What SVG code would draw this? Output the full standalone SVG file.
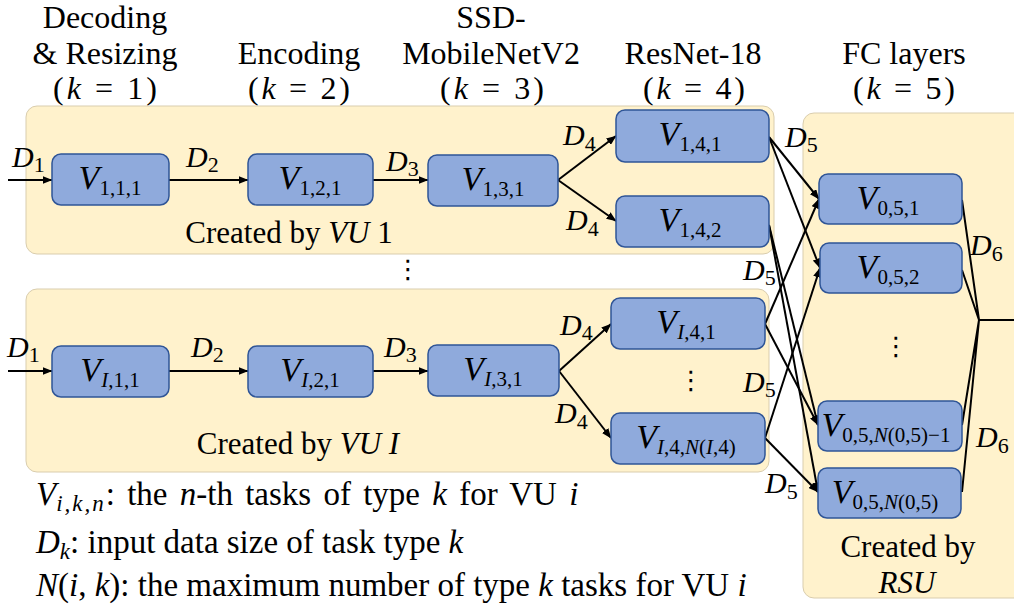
<svg xmlns="http://www.w3.org/2000/svg" width="1014" height="613" viewBox="0 0 1014 613">
  <defs>
    <marker id="arrow" markerWidth="10" markerHeight="8" refX="9.5" refY="4" orient="auto" markerUnits="userSpaceOnUse">
      <path d="M0,0 L10,4 L0,8 z" fill="#000"/>
    </marker>
  </defs>
  <style>
    .cont { fill:#FFF2CC; stroke:#D9CDAE; stroke-width:1; }
    .node rect { fill:#8FAADC; stroke:#2F5597; stroke-width:1.5; }
    .t { font-family:"Liberation Serif","DejaVu Serif",serif; fill:#000; }
    .title { font-size:32px; text-anchor:middle; }
    .m { font-style:italic; }
    .lbl { font-size:34px; text-anchor:middle; }
    .sub { font-size:21px; }
    .lsub { font-size:23px; }
    .d { font-size:30px; }
    .dsub { font-size:22px; }
    .cap { font-size:31px; text-anchor:middle; }
    .leg { font-size:33px; }
    .dots { font-family:"DejaVu Sans",sans-serif; font-size:26px; text-anchor:middle; fill:#000; }
    .edge { stroke:#000; stroke-width:2; fill:none; marker-end:url(#arrow); }
    .line { stroke:#000; stroke-width:2; fill:none; }
  </style>

  <!-- column headings -->
  <g id="headings" class="t title">
    <text x="105" y="28">Decoding</text>
    <text x="105" y="64">&amp; Resizing</text>
    <text x="105" y="99" textLength="104">(<tspan class="m">k</tspan> = 1)</text>
    <text x="299" y="64">Encoding</text>
    <text x="299" y="99" textLength="102">(<tspan class="m">k</tspan> = 2)</text>
    <text x="491" y="28">SSD-</text>
    <text x="491" y="64">MobileNetV2</text>
    <text x="492" y="99" textLength="104">(<tspan class="m">k</tspan> = 3)</text>
    <text x="693" y="64">ResNet-18</text>
    <text x="694" y="99" textLength="102">(<tspan class="m">k</tspan> = 4)</text>
    <text x="904" y="64">FC layers</text>
    <text x="904" y="99" textLength="102">(<tspan class="m">k</tspan> = 5)</text>
  </g>

  <!-- task groups -->
  <g id="group-vu1">
    <rect class="cont" x="26" y="106" width="748" height="148" rx="11"/>
    <text class="t cap" x="289" y="243">Created by <tspan class="m">VU</tspan> 1</text>
  </g>
  <g id="group-vuI">
    <rect class="cont" x="26" y="289" width="743" height="183" rx="11"/>
    <text class="t cap" x="298" y="454">Created by <tspan class="m">VU I</tspan></text>
  </g>
  <g id="group-rsu">
    <rect class="cont" x="803" y="113" width="230" height="485" rx="11"/>
    <text class="t cap" x="908" y="557">Created by</text>
    <text class="t cap m" x="907" y="593">RSU</text>
  </g>

  <text class="dots" x="408" y="278">⋮</text>
  <text class="dots" x="691" y="389">⋮</text>
  <text class="dots" x="896" y="355">⋮</text>

  <!-- connectors -->
  <g id="connectors">
    <line class="edge" x1="8" y1="180" x2="52" y2="180"/>
    <line class="edge" x1="169" y1="180" x2="248" y2="180"/>
    <line class="edge" x1="373" y1="180" x2="428" y2="180"/>
    <line class="edge" x1="558" y1="180" x2="616" y2="136"/>
    <line class="edge" x1="558" y1="180" x2="616" y2="221"/>

    <line class="edge" x1="8" y1="371" x2="52" y2="371"/>
    <line class="edge" x1="169" y1="371" x2="248" y2="371"/>
    <line class="edge" x1="373" y1="371" x2="428" y2="371"/>
    <line class="edge" x1="559" y1="371" x2="611" y2="324"/>
    <line class="edge" x1="559" y1="371" x2="611" y2="438"/>

    <line class="edge" x1="769" y1="137" x2="819" y2="199"/>
    <line class="edge" x1="769" y1="137" x2="820" y2="268"/>
    <line class="edge" x1="769" y1="225" x2="818" y2="425"/>
    <line class="edge" x1="769" y1="225" x2="818" y2="492"/>
    <line class="edge" x1="765" y1="324" x2="819" y2="199"/>
    <line class="edge" x1="765" y1="324" x2="818" y2="425"/>
    <line class="edge" x1="765" y1="438" x2="820" y2="268"/>
    <line class="edge" x1="765" y1="438" x2="818" y2="492"/>

    <polyline class="line" points="962,200 979,320 962,270"/>
    <polyline class="line" points="962,425 979,320 962,492"/>
    <line class="line" x1="979" y1="320" x2="1014" y2="320"/>
  </g>

  <!-- data-size labels -->
  <g id="data-labels" class="t d">
    <text x="12" y="167"><tspan class="m">D</tspan><tspan class="dsub" dy="5">1</tspan></text>
    <text x="186" y="167"><tspan class="m">D</tspan><tspan class="dsub" dy="5">2</tspan></text>
    <text x="386" y="171"><tspan class="m">D</tspan><tspan class="dsub" dy="5">3</tspan></text>
    <text x="563" y="145"><tspan class="m">D</tspan><tspan class="dsub" dy="6">4</tspan></text>
    <text x="566" y="230"><tspan class="m">D</tspan><tspan class="dsub" dy="6">4</tspan></text>
    <text x="785" y="147"><tspan class="m">D</tspan><tspan class="dsub" dy="5">5</tspan></text>
    <text x="743" y="280"><tspan class="m">D</tspan><tspan class="dsub" dy="5">5</tspan></text>
    <text x="743" y="392"><tspan class="m">D</tspan><tspan class="dsub" dy="5">5</tspan></text>
    <text x="765" y="493"><tspan class="m">D</tspan><tspan class="dsub" dy="6">5</tspan></text>
    <text x="970" y="255"><tspan class="m">D</tspan><tspan class="dsub" dy="6">6</tspan></text>
    <text x="976" y="447"><tspan class="m">D</tspan><tspan class="dsub" dy="6">6</tspan></text>
    <text x="7" y="357"><tspan class="m">D</tspan><tspan class="dsub" dy="5">1</tspan></text>
    <text x="191" y="357"><tspan class="m">D</tspan><tspan class="dsub" dy="5">2</tspan></text>
    <text x="384" y="357"><tspan class="m">D</tspan><tspan class="dsub" dy="5">3</tspan></text>
    <text x="560" y="335"><tspan class="m">D</tspan><tspan class="dsub" dy="5">4</tspan></text>
    <text x="555" y="423"><tspan class="m">D</tspan><tspan class="dsub" dy="6">4</tspan></text>
  </g>

  <!-- tasks of VU 1 -->
  <g id="v111" class="node"><rect x="52" y="154" width="117" height="51" rx="9"/>
    <text class="t lbl" x="110" y="189"><tspan class="m">V</tspan><tspan class="sub" dy="6">1,1,1</tspan></text></g>
  <g id="v121" class="node"><rect x="248" y="154" width="125" height="51" rx="9"/>
    <text class="t lbl" x="310" y="189"><tspan class="m">V</tspan><tspan class="sub" dy="6">1,2,1</tspan></text></g>
  <g id="v131" class="node"><rect x="428" y="155" width="130" height="51" rx="9"/>
    <text class="t lbl" x="493" y="190"><tspan class="m">V</tspan><tspan class="sub" dy="6">1,3,1</tspan></text></g>
  <g id="v141" class="node"><rect x="616" y="110" width="153" height="52" rx="9"/>
    <text class="t lbl" x="690" y="145"><tspan class="m">V</tspan><tspan class="sub" dy="6">1,4,1</tspan></text></g>
  <g id="v142" class="node"><rect x="616" y="196" width="153" height="51" rx="9"/>
    <text class="t lbl" x="690" y="231"><tspan class="m">V</tspan><tspan class="sub" dy="6">1,4,2</tspan></text></g>

  <!-- tasks of VU I -->
  <g id="vI11" class="node"><rect x="52" y="346" width="117" height="51" rx="9"/>
    <text class="t lbl" x="110" y="381"><tspan class="m">V</tspan><tspan class="sub" dy="6"><tspan class="m">I</tspan>,1,1</tspan></text></g>
  <g id="vI21" class="node"><rect x="248" y="346" width="125" height="51" rx="9"/>
    <text class="t lbl" x="310" y="381"><tspan class="m">V</tspan><tspan class="sub" dy="6"><tspan class="m">I</tspan>,2,1</tspan></text></g>
  <g id="vI31" class="node"><rect x="428" y="345" width="131" height="51" rx="9"/>
    <text class="t lbl" x="493" y="380"><tspan class="m">V</tspan><tspan class="sub" dy="6"><tspan class="m">I</tspan>,3,1</tspan></text></g>
  <g id="vI41" class="node"><rect x="611" y="298" width="154" height="51" rx="9"/>
    <text class="t lbl" x="686" y="333"><tspan class="m">V</tspan><tspan class="sub" dy="6"><tspan class="m">I</tspan>,4,1</tspan></text></g>
  <g id="vI4N" class="node"><rect x="611" y="413" width="154" height="51" rx="9"/>
    <text class="t lbl" x="686" y="448"><tspan class="m">V</tspan><tspan class="sub" dy="6"><tspan class="m">I</tspan>,4,<tspan class="m">N</tspan>(<tspan class="m">I</tspan>,4)</tspan></text></g>

  <!-- tasks of the RSU -->
  <g id="v051" class="node"><rect x="819" y="174" width="143" height="50" rx="9"/>
    <text class="t lbl" x="888" y="209"><tspan class="m">V</tspan><tspan class="sub" dy="6">0,5,1</tspan></text></g>
  <g id="v052" class="node"><rect x="820" y="243" width="142" height="50" rx="9"/>
    <text class="t lbl" x="888" y="278"><tspan class="m">V</tspan><tspan class="sub" dy="6">0,5,2</tspan></text></g>
  <g id="v05N1" class="node"><rect x="818" y="401" width="144" height="50" rx="9"/>
    <text class="t lbl" x="886" y="436"><tspan class="m">V</tspan><tspan class="sub" dy="6">0,5,<tspan class="m">N</tspan>(0,5)−1</tspan></text></g>
  <g id="v05N" class="node"><rect x="818" y="468" width="143" height="50" rx="9"/>
    <text class="t lbl" x="885" y="503"><tspan class="m">V</tspan><tspan class="sub" dy="6">0,5,<tspan class="m">N</tspan>(0,5)</tspan></text></g>

  <!-- notation legend -->
  <g id="legend" class="t leg">
    <text x="36" y="505" word-spacing="4"><tspan class="m">V</tspan><tspan class="lsub m" dy="6" letter-spacing="2">i,k,n</tspan><tspan dy="-6">: the </tspan><tspan class="m">n</tspan>-th tasks of type <tspan class="m">k</tspan> for VU <tspan class="m">i</tspan></text>
    <text x="36" y="553"><tspan class="m">D</tspan><tspan class="lsub m" dy="6">k</tspan><tspan dy="-6">: input data size of task type </tspan><tspan class="m">k</tspan></text>
    <text x="36" y="596"><tspan class="m">N</tspan>(<tspan class="m">i</tspan>, <tspan class="m">k</tspan>): the maximum number of type <tspan class="m">k</tspan> tasks for VU <tspan class="m">i</tspan></text>
  </g>
</svg>
